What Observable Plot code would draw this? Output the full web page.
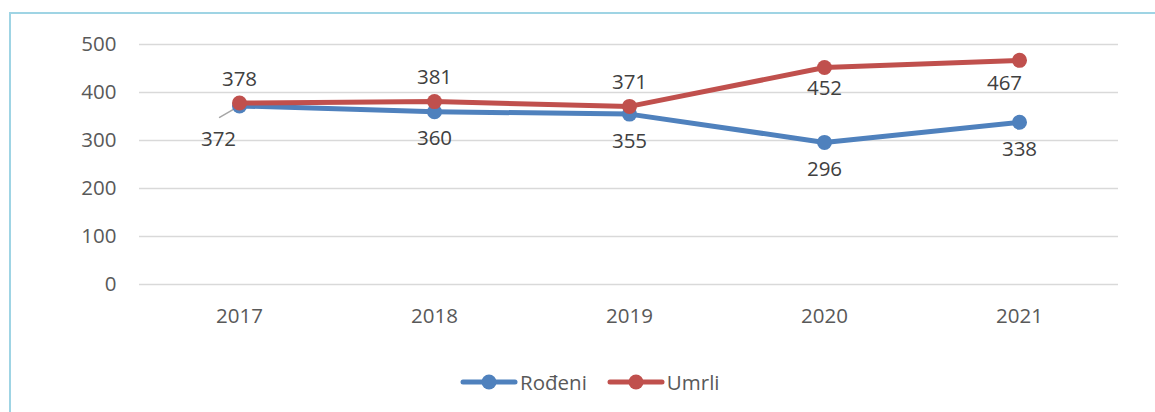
<!DOCTYPE html>
<html><head><meta charset="utf-8">
<script src="https://cdn.jsdelivr.net/npm/d3@7"></script>
<script src="https://cdn.jsdelivr.net/npm/@observablehq/plot@0.6"></script>
<style>
body{margin:0;background:#fff;font-family:"Open Sans",sans-serif;}
#wrap{position:relative;width:1155px;height:412px;overflow:hidden;background:#fff;}
#chart{position:absolute;left:0;top:0;}
.bl{position:absolute;left:9px;top:12px;width:2px;height:400px;background:#9fd4e4;}
.bt{position:absolute;left:9px;top:12px;width:1146px;height:2px;background:#9fd4e4;}
#legend{position:absolute;left:460px;top:368px;display:flex;align-items:center;font-size:20.5px;color:#595959;}
#legend .item{display:flex;align-items:center;margin-right:20px;}
#legend svg{display:block;margin-right:2px;}
</style></head>
<body>
<div id="wrap"><div id="chart"></div><div class="bl"></div><div class="bt"></div><div id="legend"></div></div>
<script>
const years = ["2017","2018","2019","2020","2021"];
const rodeni = [372, 360, 355, 296, 338];
const umrli = [378, 381, 371, 452, 467];
const seriesNames = ["Rođeni", "Umrli"];
const seriesColors = ["#4f81bd", "#c0504d"];
const yTicks = [0, 100, 200, 300, 400, 500];

const rows = [];
years.forEach((y, i) => {
  rows.push({year: y, value: rodeni[i], series: seriesNames[0], other: umrli[i], idx: i});
});
years.forEach((y, i) => {
  rows.push({year: y, value: umrli[i], series: seriesNames[1], other: rodeni[i], idx: i});
});
const rRows = rows.filter(d => d.series === seriesNames[0]);
const uRows = rows.filter(d => d.series === seriesNames[1]);

const leader = {draw(context, l) { context.moveTo(0, 0); context.lineTo(0, -l); }};
const labelFill = "#404040";
const fs = 20.5;

const chart = Plot.plot({
  width: 1155, height: 350,
  marginLeft: 139, marginRight: 37, marginTop: 44, marginBottom: 66,
  style: {fontFamily: '"Open Sans", sans-serif', color: "#595959", background: "transparent"},
  x: {type: "point", domain: years, padding: 0.5},
  y: {domain: [0, 500]},
  color: {domain: seriesNames, range: seriesColors},
  marks: [
    Plot.ruleY(yTicks, {stroke: "#d9d9d9", strokeWidth: 1.6}),
    Plot.axisY({ticks: yTicks, tickSize: 0, tickPadding: 23, fontSize: fs, label: null}),
    Plot.axisX({tickSize: 0, tickPadding: 24, fontSize: fs, label: null}),
    Plot.vector(rRows.filter(d => d.idx === 0), {x: "year", y: "value", anchor: "start", length: 23, rotate: 240, shape: leader, stroke: "#a6a6a6", strokeWidth: 1.5}),
    Plot.line(rRows, {x: "year", y: "value", stroke: seriesColors[0], strokeWidth: 5, strokeLinecap: "round"}),
    Plot.dot(rRows, {x: "year", y: "value", r: 7.5, fill: seriesColors[0]}),
    Plot.line(uRows, {x: "year", y: "value", stroke: seriesColors[1], strokeWidth: 5, strokeLinecap: "round"}),
    Plot.dot(uRows, {x: "year", y: "value", r: 7.5, fill: seriesColors[1]}),
    // Umrli labels: above when close to Rođeni, below otherwise
    Plot.text(uRows.filter(d => d.value - d.other < 50), {x: "year", y: "value", text: "value", dy: -24, fontSize: fs, fill: labelFill}),
    Plot.text(uRows.filter(d => d.value - d.other >= 50 && d.idx < 4), {x: "year", y: "value", text: "value", dy: 21, fontSize: fs, fill: labelFill}),
    Plot.text(uRows.filter(d => d.idx === 4), {x: "year", y: "value", text: "value", dy: 23, dx: -15, fontSize: fs, fill: labelFill}),
    // Rođeni labels below
    Plot.text(rRows.filter(d => d.idx > 0), {x: "year", y: "value", text: "value", dy: 27, fontSize: fs, fill: labelFill}),
    Plot.text(rRows.filter(d => d.idx === 0), {x: "year", y: "value", text: "value", dy: 33, dx: -21, fontSize: fs, fill: labelFill})
  ]
});
document.getElementById("chart").appendChild(chart);

const legend = document.getElementById("legend");
seriesNames.forEach((name, i) => {
  const item = document.createElement("div");
  item.className = "item";
  item.innerHTML = `<svg width="58" height="24"><line x1="3" y1="12" x2="55" y2="12" stroke="${seriesColors[i]}" stroke-width="5" stroke-linecap="round"/><circle cx="29" cy="12" r="7.5" fill="${seriesColors[i]}"/></svg><span>${name}</span>`;
  legend.appendChild(item);
});
</script>
</body></html>
